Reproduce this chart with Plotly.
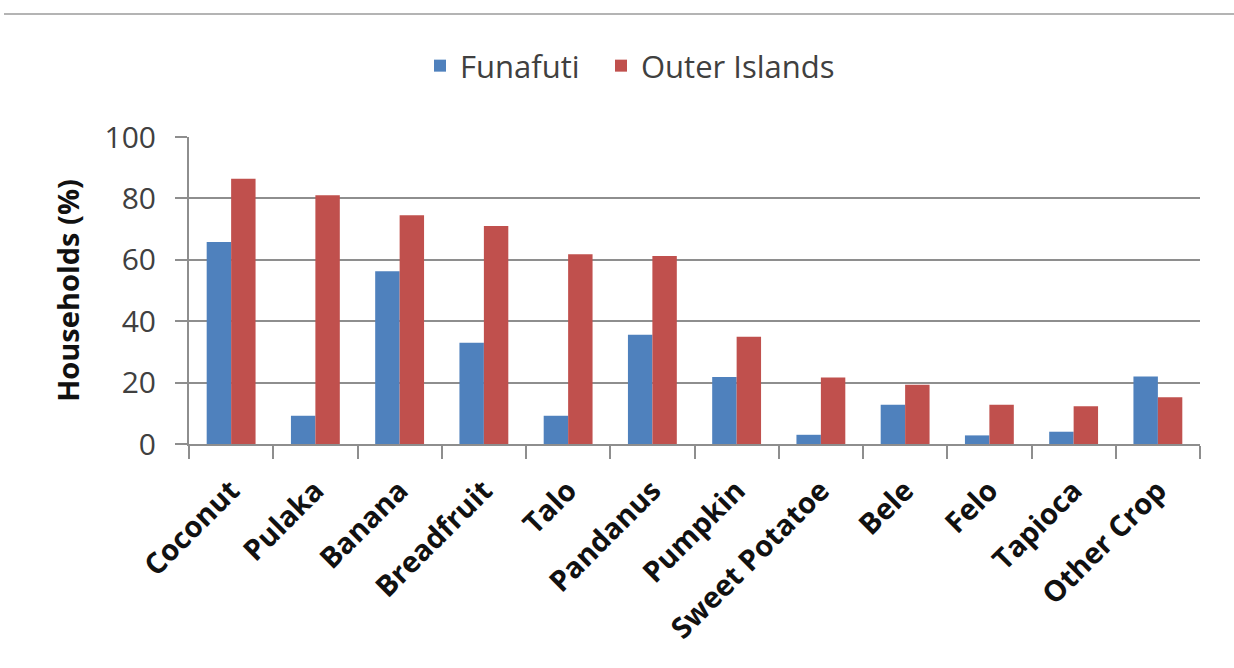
import plotly.graph_objects as go

crops = ["Coconut", "Pulaka", "Banana", "Breadfruit", "Talo", "Pandanus",
         "Pumpkin", "Sweet Potatoe", "Bele", "Felo", "Tapioca", "Other Crop"]
funafuti = [65.8, 9.2, 56.3, 33.0, 9.2, 35.6, 21.8, 3.0, 12.8, 2.8, 4.0, 22.0]
outer_islands = [86.4, 81.0, 74.5, 71.0, 61.8, 61.2, 34.9, 21.7, 19.3, 12.8, 12.3, 15.2]
y_ticks = [0, 20, 40, 60, 80, 100]

FONT = "Open Sans"
GRID = "#8e8e8e"

W, H = 1234, 668
L, R, T, B = 189, 34, 137, 224
pw, ph = W - L - R, H - T - B

fig = go.Figure()
fig.add_trace(go.Bar(name="Funafuti", x=crops, y=funafuti, legend="legend",
                     marker=dict(color="#4F81BD", line=dict(width=0))))
fig.add_trace(go.Bar(name="Outer Islands", x=crops, y=outer_islands, legend="legend2",
                     marker=dict(color="#C0504D", line=dict(width=0))))

legend_style = dict(orientation="h", xanchor="left", yanchor="middle",
                    y=1 + (T - 66) / ph, itemwidth=30,
                    font=dict(family=FONT, size=31, color="#404040"),
                    bgcolor="rgba(0,0,0,0)")

fig.update_layout(
    width=W, height=H,
    margin=dict(l=L, r=R, t=T, b=B, autoexpand=False),
    paper_bgcolor="white", plot_bgcolor="white",
    barmode="group", bargap=0.42, bargroupgap=0,
    font=dict(family=FONT, color="#404040"),
    legend=dict(x=(420 - L) / pw, **legend_style),
    legend2=dict(x=(601 - L) / pw, **legend_style),
    showlegend=True,
)

fig.update_xaxes(
    type="category", tickangle=-45, tickson="boundaries",
    ticks="outside", ticklen=13, tickwidth=2, tickcolor=GRID,
    showline=True, linecolor=GRID, linewidth=2,
    showgrid=False, ticklabelstandoff=16,
    tickfont=dict(family=FONT, size=29, color="#111111", weight="bold"),
)
fig.update_yaxes(
    range=[0, 100], tickvals=y_ticks, ticktext=[str(v) for v in y_ticks],
    ticks="outside", ticklen=12, tickwidth=2, tickcolor=GRID,
    showline=True, linecolor=GRID, linewidth=2,
    showgrid=True, gridcolor=GRID, gridwidth=2,
    zeroline=False, ticklabelstandoff=13,
    tickfont=dict(family=FONT, size=30, color="#404040"),
    title=dict(text="Households (%)", standoff=16,
               font=dict(family=FONT, size=29, color="#111111", weight="bold")),
)

# thin rule across the top of the page
fig.add_shape(type="line", xref="paper", yref="paper",
              x0=(4 - L) / pw, x1=(W - L) / pw,
              y0=1 + (T - 14) / ph, y1=1 + (T - 14) / ph,
              line=dict(color="#b4b4b4", width=2))

fig.write_html("out.html")
